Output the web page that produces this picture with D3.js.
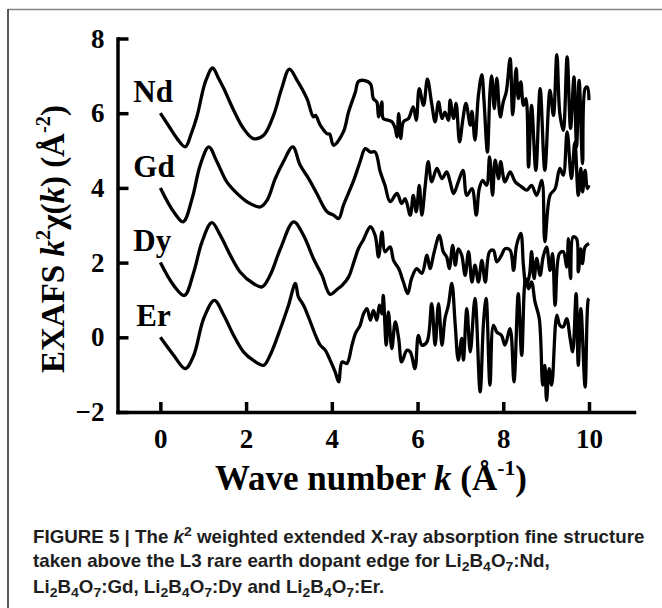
<!DOCTYPE html>
<html>
<head>
<meta charset="utf-8">
<title>EXAFS k2 weighted</title>
<script src="https://cdnjs.cloudflare.com/ajax/libs/d3/7.8.5/d3.min.js"></script>
<style>
	body { margin: 0; background: #fff; }
	svg { display: block; }
</style>
</head>
<body>
<div class="vis"></div>
<script>
'use strict';

// series names and vertical offsets used in the stacked plot
var seriesNames = ['Nd', 'Gd', 'Dy', 'Er'];
var seriesOffsets = [6, 4, 2, 0];

// wave number k (1/A) and k^2 chi(k) (without offset)
var kNd = [0, 0.2, 0.39, 0.58, 0.72, 0.86, 1.05, 1.22, 1.35, 1.48, 1.71, 1.94, 2.17, 2.41, 2.64, 2.83, 3.01, 3.19, 3.42, 3.57, 3.62, 3.73, 3.89, 3.95, 4.04, 4.27, 4.39, 4.55, 4.62, 4.74, 4.9, 4.97, 5.05, 5.09, 5.17, 5.2, 5.32, 5.4, 5.48, 5.52, 5.56, 5.61, 5.67, 5.79, 5.9, 5.97, 6.04, 6.14, 6.23, 6.33, 6.41, 6.49, 6.57, 6.64, 6.72, 6.76, 6.84, 6.9, 6.98, 7.06, 7.13, 7.23, 7.27, 7.34, 7.42, 7.5, 7.55, 7.63, 7.69, 7.73, 7.79, 7.85, 7.93, 8.0, 8.07, 8.16, 8.22, 8.3, 8.35, 8.41, 8.47, 8.53, 8.59, 8.66, 8.76, 8.86, 8.97, 9.09, 9.17, 9.25, 9.32, 9.4, 9.49, 9.57, 9.65, 9.71, 9.77, 9.85, 9.91, 9.96, 10.0];
var chiNd = [0, -0.35, -0.68, -0.9, -0.55, -0.06, 0.84, 1.21, 0.95, 0.66, 0.08, -0.41, -0.68, -0.59, -0.06, 0.66, 1.18, 0.88, 0.39, -0.1, -0.06, -0.32, -0.55, -0.56, -0.86, -0.5, 0.03, 0.57, 0.85, 0.88, 0.79, 0.39, 0.3, -0.1, 0.3, -0.14, -0.19, -0.23, -0.41, -0.63, -0.01, -0.68, -0.23, -0.14, 0.17, -0.19, 0.66, 0.21, 0.91, 0.26, -0.23, 0.3, -0.14, 0.03, -0.19, 0.35, -0.14, 0.26, -0.77, -0.14, 0.26, -0.32, 0.05, -0.72, 0.48, 1.03, 0.35, -1.04, 0.57, 1.0, 0.12, 0.94, -0.1, 0.3, 0.57, 1.46, -0.04, 1.2, 0.39, 0.84, 0.21, 0.39, -1.44, 0.21, -1.53, 0.66, -1.53, 0.61, -0.06, 1.57, -0.01, -0.46, 1.51, -0.41, 0.97, -0.9, 0.88, -1.35, 0.66, 0.7, 0.35];

var kGd = [0, 0.31, 0.53, 0.74, 0.93, 1.13, 1.32, 1.55, 1.79, 2.02, 2.33, 2.49, 2.68, 2.87, 3.09, 3.26, 3.46, 3.65, 3.89, 4.04, 4.16, 4.27, 4.51, 4.66, 4.78, 4.9, 5.01, 5.13, 5.24, 5.36, 5.52, 5.63, 5.71, 5.83, 5.9, 5.97, 6.04, 6.1, 6.18, 6.25, 6.33, 6.45, 6.57, 6.68, 6.76, 6.84, 6.95, 7.06, 7.15, 7.27, 7.37, 7.44, 7.52, 7.61, 7.68, 7.75, 7.81, 7.89, 7.94, 8.04, 8.16, 8.28, 8.43, 8.55, 8.66, 8.78, 8.9, 8.97, 9.09, 9.21, 9.32, 9.4, 9.49, 9.59, 9.67, 9.75, 9.81, 9.85, 9.91, 9.96, 10.0];
var chiGd = [0, -0.64, -0.91, -0.29, 0.61, 1.1, 0.7, 0.16, -0.15, -0.37, -0.51, -0.33, 0.25, 0.7, 1.1, 0.61, 0.25, -0.15, -0.64, -0.73, -0.82, -0.47, 0.2, 0.7, 1.05, 0.96, 0.96, 0.43, 0.07, -0.37, -0.15, -0.42, -0.29, -0.73, -0.2, -0.64, 0.07, -0.73, 0.07, 0.7, 0.16, 0.52, 0.25, 0.43, 0.16, -0.15, 0.16, 0.47, -0.2, -0.02, -0.73, -0.02, 0.2, 0.07, 0.83, -0.2, 0.74, 0.25, 0.7, 0.16, 0.43, 0.16, 0.03, -0.06, 0.07, -0.2, 0.2, -1.44, -0.2, -0.02, 0.52, 0.34, 1.5, 0.25, 1.22, -0.2, 0.52, -0.11, 0.47, -0.02, 0.07];

var kDy = [0, 0.31, 0.56, 0.78, 0.97, 1.2, 1.4, 1.63, 1.86, 2.17, 2.37, 2.56, 2.8, 3.11, 3.34, 3.57, 3.77, 3.96, 4.12, 4.24, 4.39, 4.51, 4.62, 4.74, 4.9, 5.01, 5.09, 5.17, 5.24, 5.36, 5.44, 5.56, 5.67, 5.77, 5.86, 5.98, 6.1, 6.22, 6.29, 6.39, 6.51, 6.6, 6.68, 6.74, 6.82, 6.88, 6.95, 7.03, 7.11, 7.19, 7.27, 7.34, 7.42, 7.5, 7.58, 7.68, 7.77, 7.85, 7.96, 8.04, 8.16, 8.24, 8.31, 8.41, 8.47, 8.53, 8.61, 8.66, 8.72, 8.78, 8.86, 8.93, 9.01, 9.09, 9.15, 9.21, 9.31, 9.4, 9.48, 9.52, 9.57, 9.63, 9.71, 9.75, 9.81, 9.85, 9.91, 10.0];
var chiDy = [0, -0.61, -0.88, -0.25, 0.55, 1.07, 0.73, 0.2, -0.25, -0.56, -0.65, -0.34, 0.37, 1.09, 0.73, 0.11, -0.34, -0.85, -0.72, -0.61, -0.39, 0, 0.37, 0.62, 0.96, 0.73, 0.15, 0.82, 0.29, 0.42, 0.06, -0.16, -0.52, -0.83, -0.43, -0.16, -0.29, 0.2, -0.16, 0.29, 0.73, 0.29, 0.15, -0.16, 0.46, -0.07, 0.37, 0.2, -0.34, 0.29, -0.52, -0.07, -0.52, 0.06, -0.52, 0.29, 0.33, 0.02, 0.2, 0.37, 0.33, -0.21, 0.46, 0.78, -0.07, -0.61, -0.34, 0.29, -0.43, 0.11, -0.34, 0.15, 0.42, -0.21, 0.24, -1.14, 0.24, 0.29, -0.12, 0.64, -0.43, 0.69, 0.64, -0.25, 0.37, -0.03, 0.42, 0.51];

var kEr = [0, 0.31, 0.58, 0.78, 1.01, 1.26, 1.48, 1.71, 1.94, 2.17, 2.41, 2.56, 2.8, 2.99, 3.15, 3.22, 3.34, 3.5, 3.62, 3.73, 3.85, 3.96, 4.08, 4.16, 4.24, 4.35, 4.47, 4.55, 4.66, 4.74, 4.82, 4.9, 4.97, 5.05, 5.11, 5.17, 5.2, 5.27, 5.32, 5.4, 5.48, 5.56, 5.63, 5.75, 5.83, 5.94, 6.02, 6.1, 6.22, 6.33, 6.41, 6.49, 6.57, 6.64, 6.72, 6.8, 6.88, 6.95, 7.03, 7.07, 7.15, 7.23, 7.34, 7.46, 7.54, 7.6, 7.69, 7.77, 7.85, 7.96, 8.04, 8.16, 8.25, 8.35, 8.43, 8.52, 8.59, 8.66, 8.74, 8.84, 8.92, 8.97, 9.01, 9.07, 9.13, 9.25, 9.32, 9.4, 9.48, 9.56, 9.62, 9.7, 9.75, 9.81, 9.91, 9.98, 10.0];
var chiEr = [0, -0.48, -0.84, -0.48, 0.5, 0.99, 0.59, 0.05, -0.39, -0.62, -0.75, -0.48, 0.23, 0.86, 1.44, 1.08, 0.86, 0.41, 0.05, -0.21, -0.35, -0.61, -0.93, -1.19, -0.66, -0.7, -0.21, 0.1, 0.32, 0.63, 0.77, 0.46, 0.72, 0.46, 0.86, 0.63, 1.12, -0.21, 0.68, -0.3, 0.41, -0.03, -0.66, -0.35, -0.39, -0.84, 0.05, -0.21, -0.12, 0.9, -0.21, 0.9, -0.21, 0.5, 0.86, 1.44, 0.32, -0.61, -0.03, -0.61, 0.77, -0.39, 1.04, -1.46, 0.41, 1.04, -1.28, 0.32, 0.14, 0.05, -0.21, 0.23, -1.19, 1.17, -0.48, 1.57, 1.3, 1.48, 0.95, 0.5, -1.28, -0.75, -1.69, -0.84, -1.28, 0.59, 0.32, 0.28, 0.5, -0.03, -0.39, 1.17, -0.75, 0.77, -1.33, 1.0, 1.04];

// axes
var xTicks = [0, 2, 4, 6, 8, 10];
var yTicks = [-2, 0, 2, 4, 6, 8];

// titles, written as runs: '' plain, 'i' italic, 'sup' superscript, 'sub' subscript
var xTitle = [['Wave number ', ''], ['k', 'i'], [' (Å', ''], ['-1', 'sup'], [')', '']];
var yTitle = [['EXAFS ', ''], ['k', 'i'], ['2', 'sup'], ['χ(', ''], ['k', 'i'], [') (Å', ''], ['-2', 'sup'], [')', '']];

var captionLine1 = [['FIGURE 5 | The ', ''], ['k', 'i'], ['2', 'sup'], [' weighted extended X-ray absorption fine structure', '']];
var captionLine2 = [['taken above the L3 rare earth dopant edge for Li', ''], ['2', 'sub'], ['B', ''], ['4', 'sub'], ['O', ''], ['7', 'sub'], [':Nd,', '']];
var captionLine3 = [['Li', ''], ['2', 'sub'], ['B', ''], ['4', 'sub'], ['O', ''], ['7', 'sub'], [':Gd, Li', ''], ['2', 'sub'], ['B', ''], ['4', 'sub'], ['O', ''], ['7', 'sub'], [':Dy and Li', ''], ['2', 'sub'], ['B', ''], ['4', 'sub'], ['O', ''], ['7', 'sub'], [':Er.', '']];

(function ( window, document, undefined ) {

	var width = 662;
	var height = 608;

	var serif = "'Liberation Serif', 'Times New Roman', Times, serif";
	var sans = "'Liberation Sans Narrow', 'Liberation Sans', Arial, sans-serif";

	var series = [
		{ k: kNd, chi: chiNd },
		{ k: kGd, chi: chiGd },
		{ k: kDy, chi: chiDy },
		{ k: kEr, chi: chiEr }
	].map(function(s, i) {
		return {
			name: seriesNames[i],
			offset: seriesOffsets[i],
			points: s.k.map(function(k, j) { return { k: k, v: s.chi[j] + seriesOffsets[i] }; })
		};
	});

	var x = d3.scaleLinear()
		.domain( [-1, 11.05] )
		.range( [117.5, 634] );

	var y = d3.scaleLinear()
		.domain( [-2, 8] )
		.range( [412, 38.5] );

	var svg = d3.select('.vis')
		.append('svg')
			.attr('width', width)
			.attr('height', height);

	// frame around figure (only top and left visible)
	svg.append('line')
		.attr('x1', 8).attr('y1', 9.5).attr('x2', width).attr('y2', 9.5)
		.attr('stroke', '#858585').attr('stroke-width', 1.6);
	svg.append('line')
		.attr('x1', 8).attr('y1', 9).attr('x2', 8).attr('y2', height)
		.attr('stroke', '#333').attr('stroke-width', 1.6);

	// curves
	var line = d3.line()
		.x(function(d) { return x( d.k ); })
		.y(function(d) { return y( d.v ); })
		.curve( d3.curveCatmullRom.alpha(0.5) );

	svg.append('g')
		.selectAll('path')
		.data( series )
		.enter()
		.append('path')
			.attr('d', function(d) { return line( d.points ); })
			.attr('fill', 'none')
			.attr('stroke', '#000')
			.attr('stroke-width', 3.3)
			.attr('stroke-linejoin', 'round');

	// series labels
	svg.append('g')
		.selectAll('text')
		.data( series )
		.enter()
		.append('text')
			.attr('x', function(d) { return x( d.name === 'Er' ? -0.56 : -0.63 ); })
			.attr('y', function(d) { return y( d.offset + 0.3 ); })
			.style('font-family', serif)
			.style('font-weight', 'bold')
			.style('font-size', '31px')
			.text(function(d) { return d.name; });

	// axes
	var xAxis = d3.axisBottom( x )
		.tickValues( xTicks )
		.tickSizeInner( -10 )
		.tickSizeOuter( 0 )
		.tickPadding( 17 );

	var yAxis = d3.axisLeft( y )
		.tickValues( yTicks )
		.tickSizeInner( -11 )
		.tickSizeOuter( 0 )
		.tickPadding( 13 );

	var gx = svg.append('g')
		.attr('transform', 'translate(0,' + y( -2 ) + ')')
		.call( xAxis );

	var gy = svg.append('g')
		.attr('transform', 'translate(' + x( -1 ) + ',0)')
		.call( yAxis );

	[gx, gy].forEach(function(g) {
		g.select('.domain')
			.attr('stroke', '#000')
			.attr('stroke-width', 3.5)
			.attr('stroke-linecap', 'square');
		g.selectAll('.tick line')
			.attr('stroke', '#000')
			.attr('stroke-width', 3.5);
		g.selectAll('.tick text')
			.attr('fill', '#000')
			.style('font-family', serif)
			.style('font-weight', 'bold')
			.style('font-size', '27px');
	});

	// axis titles
	var xt = svg.append('text')
		.attr('x', 371)
		.attr('y', 490)
		.attr('text-anchor', 'middle')
		.style('font-family', serif)
		.style('font-weight', 'bold')
		.style('font-size', '35px');
	addRuns( xt, xTitle, 35, 0.62, 0.42 );

	var yt = svg.append('text')
		.attr('transform', 'translate(64,239) rotate(-90)')
		.attr('text-anchor', 'middle')
		.style('font-family', serif)
		.style('font-weight', 'bold')
		.style('font-size', '33px');
	addRuns( yt, yTitle, 33, 0.62, 0.42 );

	// caption, squeezed to the width of the first line
	var captions = [captionLine1, captionLine2, captionLine3];
	var baselines = [543, 567, 593];
	var texts = captions.map(function(runs, i) {
		var t = svg.append('text')
			.attr('transform', 'translate(33,' + baselines[i] + ')')
			.attr('fill', '#1e1e1e')
			.style('font-family', sans)
			.style('font-weight', 'bold')
			.style('font-size', '18px');
		addRuns( t, runs, 18, 0.75, 0.4 );
		return t;
	});
	var squeeze = 612 / texts[0].node().getBBox().width;
	texts.forEach(function(t, i) {
		t.attr('transform', 'translate(33,' + baselines[i] + ') scale(' + squeeze + ',1)');
	});

	/**
	 * Appends styled runs of text as tspans.
	 *
	 * @param {object} sel d3 selection of a text element
	 * @param {array} runs list of [text, style] pairs
	 * @param {number} size font size in px
	 * @param {number} scriptScale relative size of super/subscripts
	 * @param {number} rise shift of scripts, in em of the base size
	 */
	function addRuns( sel, runs, size, scriptScale, rise ) {
		var shift = 0;
		runs.forEach(function(r) {
			var target = r[1] === 'sup' ? -rise * size : ( r[1] === 'sub' ? rise * 0.6 * size : 0 );
			var ts = sel.append('tspan')
				.attr('dy', target - shift)
				.text( r[0] );
			shift = target;
			if ( r[1] === 'i' ) {
				ts.style('font-style', 'italic');
			}
			if ( r[1] === 'sup' || r[1] === 'sub' ) {
				ts.style('font-size', ( size * scriptScale ) + 'px');
			}
		});
	}

})( this, document );
</script>
</body>
</html>
